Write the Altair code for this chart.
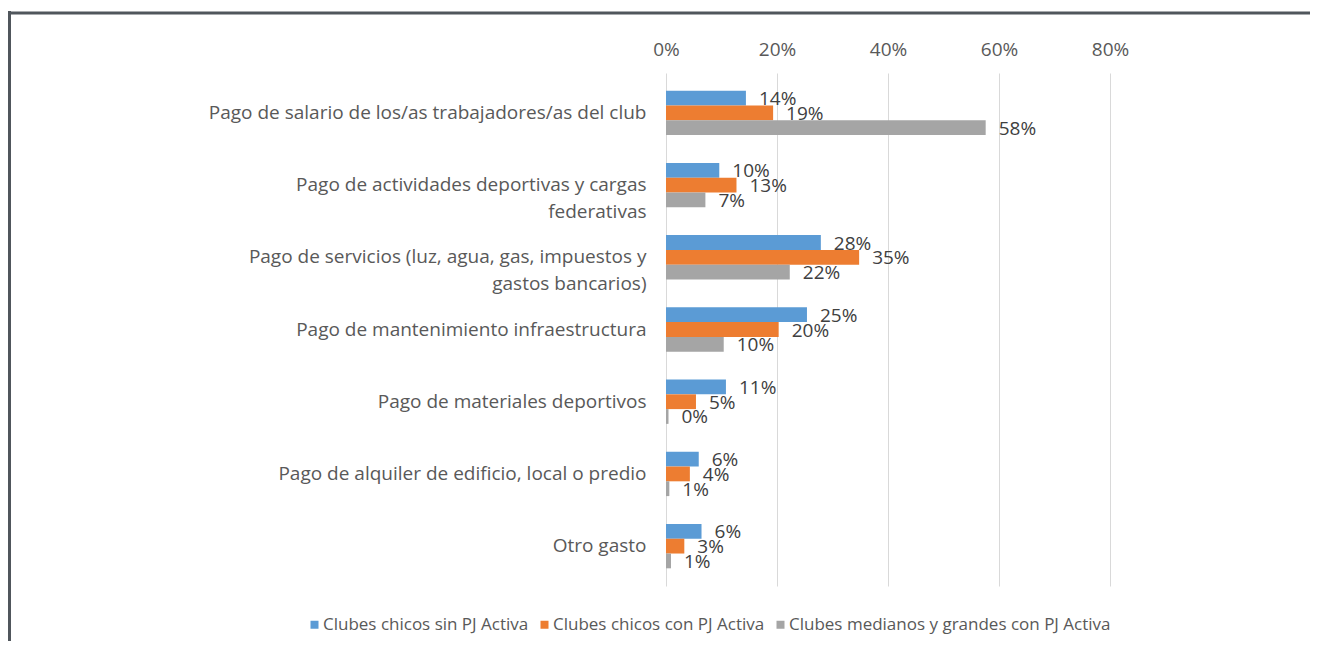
import altair as alt
import pandas as pd

categories = [
    "Pago de salario de los/as trabajadores/as del club",
    "Pago de actividades deportivas y cargas\nfederativas",
    "Pago de servicios (luz, agua, gas, impuestos y\ngastos bancarios)",
    "Pago de mantenimiento infraestructura",
    "Pago de materiales deportivos",
    "Pago de alquiler de edificio, local o predio",
    "Otro gasto",
]
series = [
    "Clubes chicos sin PJ Activa",
    "Clubes chicos con PJ Activa",
    "Clubes medianos y grandes con PJ Activa",
]
sin_pj = [14.4, 9.6, 27.9, 25.4, 10.8, 5.9, 6.4]
con_pj = [19.3, 12.7, 34.8, 20.3, 5.4, 4.3, 3.3]
medianos = [57.6, 7.1, 22.3, 10.4, 0.45, 0.6, 0.9]
colors = ["#5B9BD5", "#ED7D31", "#A5A5A5"]
ticks = [0, 20, 40, 60, 80]

rows = []
for s, vals in zip(series, [sin_pj, con_pj, medianos]):
    for c, v in zip(categories, vals):
        rows.append({"cat": c, "serie": s, "v": v})
df = pd.DataFrame(rows)

FONT = "Open Sans"

y_enc = alt.Y(
    "cat:N",
    sort=categories,
    scale=alt.Scale(paddingInner=0.386, paddingOuter=0.245),
    axis=alt.Axis(
        title=None,
        domain=False,
        ticks=False,
        labelPadding=20,
        labelFont=FONT,
        labelFontSize=19,
        labelColor="#595959",
        labelLimit=700,
        labelLineHeight=27,
        labelExpr="split(datum.label, '\\n')",
    ),
)
x_enc = alt.X(
    "v:Q",
    scale=alt.Scale(domain=[0, 80], nice=False),
    axis=alt.Axis(
        orient="top",
        title=None,
        values=ticks,
        domain=False,
        ticks=False,
        labelFlush=False,
        labelExpr="datum.value + '%'",
        labelFont=FONT,
        labelFontSize=19,
        labelColor="#595959",
        labelPadding=14,
        gridColor="#D9D9D9",
        gridWidth=1,
    ),
)
yoff = alt.YOffset("serie:N", sort=series)

bars = alt.Chart(df).mark_bar().encode(
    y=y_enc,
    x=x_enc,
    yOffset=yoff,
    color=alt.Color(
        "serie:N",
        sort=series,
        scale=alt.Scale(domain=series, range=colors),
        legend=alt.Legend(
            title=None,
            orient="none",
            direction="horizontal",
            legendX=-360,
            legendY=543,
            symbolType="square",
            symbolSize=64,
            symbolStrokeWidth=0,
            labelFont=FONT,
            labelFontSize=17,
            labelColor="#595959",
            labelLimit=0,
            columnPadding=7,
            symbolOffset=0,
            labelOffset=0,
        ),
    ),
)

labels = alt.Chart(df).transform_calculate(
    lab="format(datum.v, '.0f') + '%'"
).mark_text(
    align="left", baseline="middle", dx=13, dy=1, font=FONT, fontSize=19, color="#404040"
).encode(
    y=alt.Y("cat:N", sort=categories),
    x="v:Q",
    yOffset=yoff,
    text="lab:N",
)

frame = alt.Chart(alt.Data(values=[{}]))
frame_left = frame.mark_rule(color="#50565C", strokeWidth=3).encode(
    x=alt.value(-656.5), y=alt.value(-62), y2=alt.value(700)
)
frame_top = frame.mark_rule(color="#50565C", strokeWidth=3).encode(
    y=alt.value(-60), x=alt.value(-658), x2=alt.value(800)
)

chart = alt.layer(bars, labels, frame_left, frame_top).properties(
    width=444,
    height=513,
    padding={"left": 658, "top": 65, "right": 200, "bottom": 55},
    autosize=alt.AutoSizeParams(type="none"),
    background="white",
).configure_view(stroke=None)

chart.save("out.html", embed_options={"renderer": "svg", "actions": False})
